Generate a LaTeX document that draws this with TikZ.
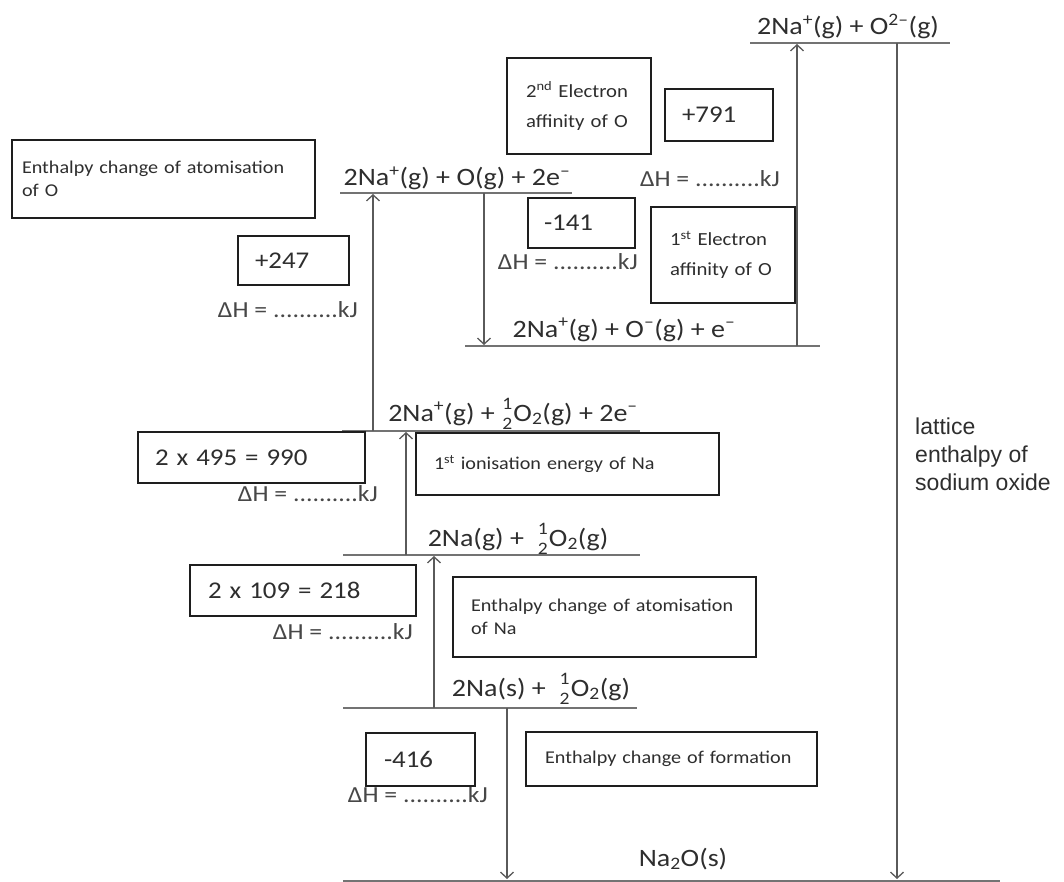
\documentclass[tikz,border=0pt]{standalone}
\usepackage{fontspec}
\usepackage{amsmath}
\usetikzlibrary{arrows.meta}
\newfontfamily\calfont[FakeStretch=1.12]{Carlito}
\newfontfamily\arialfont{Liberation Sans}
\newcommand\half{$\genfrac{}{}{0pt}{1}{\text{1}}{\text{2}}$}
\newcommand\sps[1]{\textsuperscript{#1}}
\newcommand\mn{\textendash}
\definecolor{lvlc}{HTML}{737373}
\definecolor{arrc}{HTML}{5A5A5A}
\definecolor{boxc}{HTML}{1E1E1E}
\definecolor{txtc}{HTML}{2E2E2E}
\definecolor{dhc}{HTML}{474747}
\newcommand\bx[8]{%
  \pgfmathsetmacro\bxw{#4-#2}\pgfmathsetmacro\bxh{#5-#3}%
  \pgfmathsetmacro\bxt{#4-#2-2*#6}%
  \node[box, #7, minimum width=\bxw pt, minimum height=\bxh pt, text width=\bxt pt, inner xsep=#6pt]
    (#1) at ({(#2+#4)/2},{(#3+#5)/2}) {#8};}
\begin{document}
\begin{tikzpicture}[x=1pt,y=-1pt,
  lvl/.style={draw=lvlc, line width=1.8pt},
  arr/.style={draw=arrc, line width=1.4pt, -{Straight Barb[length=6pt,width=13pt,line width=1.3pt]}},
  lvltxt/.style={anchor=base, inner sep=0pt, text=txtc, font=\calfont\fontsize{25}{30}\selectfont},
  dh/.style={inner sep=0pt, text=dhc, font=\calfont\fontsize{23}{28}\selectfont},
  box/.style={draw=boxc, line width=1.3pt, inner ysep=0pt, align=left, text=txtc},
  val/.style={font=\calfont\fontsize{24}{29}\selectfont},
  lab/.style={font=\calfont\fontsize{18}{23}\selectfont},
  lab2/.style={font=\calfont\fontsize{18.5}{30}\selectfont},
]
\useasboundingbox (0,0) rectangle (1064,882);
\fill[white] (0,0) rectangle (1064,882);

% energy levels
\draw[lvl] (750,43) coordinate (L1a) -- (950,43) coordinate (L1b);
\draw[lvl] (340,193) coordinate (L2a) -- (572,193) coordinate (L2b);
\draw[lvl] (465,346) coordinate (L3a) -- (820,346) coordinate (L3b);
\draw[lvl] (342,431) coordinate (L4a) -- (640,431) coordinate (L4b);
\draw[lvl] (343,555) coordinate (L5a) -- (640,555) coordinate (L5b);
\draw[lvl] (343,708) coordinate (L6a) -- (637,708) coordinate (L6b);
\draw[lvl] (343,881) coordinate (L7a) -- (1000,881) coordinate (L7b);

% level labels
\node[lvltxt] (t1) at (848,35) {2Na\sps{+}(g) + O\sps{2\mn}(g)};
\node[lvltxt] (t2) at (457,186) {2Na\sps{+}(g) + O(g) + 2e\sps{\mn}};
\node[lvltxt] (t3) at (624,337) {2Na\sps{+}(g) + O\sps{\mn}(g) + e\sps{\mn}};
\node[lvltxt] (t4) at (513,421) {2Na\sps{+}(g) + \half O\textsubscript{2}(g) + 2e\sps{\mn}};
\node[lvltxt] (t5) at (518,546) {2Na(g) + \ \half O\textsubscript{2}(g)};
\node[lvltxt] (t6) at (541,696) {2Na(s) + \ \half O\textsubscript{2}(g)};
\node[lvltxt] (t7) at (683,866) {Na\textsubscript{2}O(s)};

% arrow end points
\coordinate (a1s) at (797,346); \coordinate (a1e) at (797,44);
\coordinate (a2s) at (897,43);  \coordinate (a2e) at (897,879);
\coordinate (a3s) at (484,193); \coordinate (a3e) at (484,345);
\coordinate (a4s) at (373,431); \coordinate (a4e) at (373,194);
\coordinate (a5s) at (406,555); \coordinate (a5e) at (406,432);
\coordinate (a6s) at (434,708); \coordinate (a6e) at (434,556);
\coordinate (a7s) at (507,708); \coordinate (a7e) at (507,879);
\draw[arr] (a1s) -- (a1e);
\draw[arr] (a2s) -- (a2e);
\draw[arr] (a3s) -- (a3e);
\draw[arr] (a4s) -- (a4e);
\draw[arr] (a5s) -- (a5e);
\draw[arr] (a6s) -- (a6e);
\draw[arr] (a7s) -- (a7e);

% delta H texts
\node[dh] (d1) at (288,310) {ΔH = ..........kJ};
\node[dh] (d2) at (710,179) {ΔH = ..........kJ};
\node[dh] (d3) at (568,262) {ΔH = ..........kJ};
\node[dh] (d4) at (308,494) {ΔH = ..........kJ};
\node[dh] (d5) at (343,632) {ΔH = ..........kJ};
\node[dh] (d6) at (418,795) {ΔH = ..........kJ};

% boxes
\bx{b1}{12}{140}{315}{218}{10}{lab}{\mbox{Enthalpy change of atomisation}\\of O}
\bx{b2}{238}{236}{349}{285}{17}{val}{+247}
\bx{b3}{507}{58}{651}{154}{19}{lab2}{\mbox{2\sps{nd} Electron}\\\mbox{affinity of O}}
\bx{b4}{665}{89}{773}{141}{17}{val}{+791}
\bx{b5}{528}{198}{635}{248}{16}{val}{-141}
\bx{b6}{651}{207}{795}{303}{19}{lab2}{\mbox{1\sps{st} Electron}\\\mbox{affinity of O}}
\bx{b7}{138}{432}{365}{483}{17}{val}{\mbox{2 x 495 = 990}}
\bx{b8}{416}{433}{719}{495}{18}{lab}{\mbox{1\sps{st} ionisation energy of Na}}
\bx{b9}{190}{565}{416}{616}{18}{val}{\mbox{2 x 109 = 218}}
\bx{b10}{453}{577}{756}{657}{18}{lab}{\mbox{Enthalpy change of atomisation}\\of Na}
\bx{b11}{366}{733}{475}{786}{18}{val}{-416}
\bx{b12}{526}{732}{817}{786}{19}{lab}{\mbox{Enthalpy change of formation}}

% lattice label
\node[anchor=north west, align=left, inner sep=0pt, text=txtc,
  font=\arialfont\fontsize{23}{28}\selectfont] (lat) at (915,418) {lattice\\enthalpy of\\sodium oxide};
\end{tikzpicture}
\end{document}
